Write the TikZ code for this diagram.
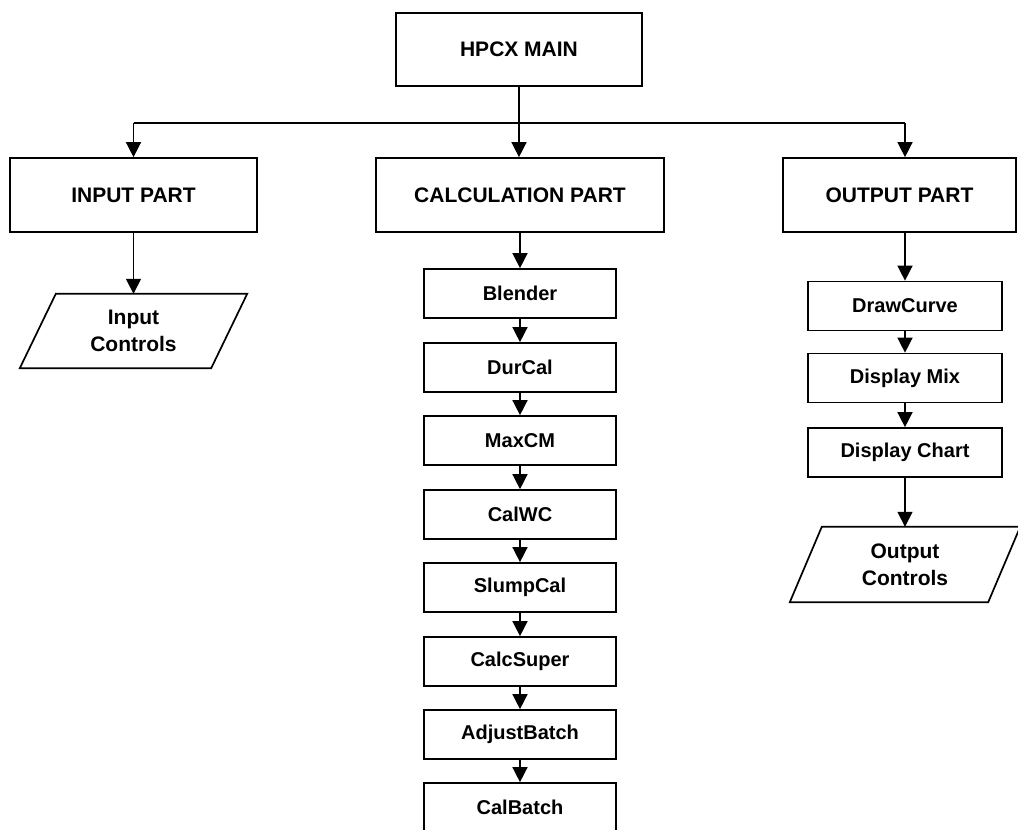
\documentclass[tikz,border=0pt]{standalone}
\usepackage{fontspec}
\setmainfont{Liberation Sans}
\usetikzlibrary{arrows.meta}
\begin{document}
\begin{tikzpicture}[x=1pt,y=-1pt,
  box/.style={draw, line width=1.7pt, rectangle, inner sep=0pt,
    font=\fontsize{21}{25}\selectfont\bfseries},
  bigbox/.style={box, minimum height=74pt},
  stepbox/.style={box, minimum height=49pt,
    font=\fontsize{20}{24}\selectfont\bfseries},
  iotext/.style={rectangle, inner sep=0pt, align=center, minimum height=74pt,
    font=\fontsize{21}{27}\selectfont\bfseries},
  arr/.style={line width=1.5pt, -{Triangle[length=15pt,width=15pt]}},
  line/.style={line width=1.5pt}]
\useasboundingbox (0,0) rectangle (1018,830);
\fill[white] (0,0) rectangle (1018,830);

% top level
\node[box, minimum width=246pt, minimum height=73pt] (main) at (519,49.5) {HPCX MAIN};

% three parts
\node[bigbox, minimum width=247pt] (inpart)   at (133.5,195) {INPUT PART};
\node[bigbox, minimum width=288pt] (calcpart) at (520,195)   {CALCULATION PART};
\node[bigbox, minimum width=233pt] (outpart)  at (899.5,195) {OUTPUT PART};

% branch from the main program
\coordinate (busL) at (133.5,123);
\coordinate (busR) at (905,123);
\draw[line] (busL) -- (busR);
\draw[arr] (busL) -- (inpart.north);
\draw[arr] (busR) -- (busR |- outpart.north);
\draw[arr] (main.south) -- (main.south |- calcpart.north);

% input side
\node[iotext, minimum width=191pt] (inctl) at (133.5,331) {Input\\Controls};
\draw[line width=1.7pt]
  ([xshift=18pt]inctl.north west) -- ([xshift=18pt]inctl.north east) --
  ([xshift=-18pt]inctl.south east) -- ([xshift=-18pt]inctl.south west) -- cycle;
\draw[arr] (inpart.south) -- (inctl.north);

% calculation chain
\node[stepbox, minimum width=192pt] (c1) at (520,293.5) {Blender};
\node[stepbox, minimum width=192pt] (c2) at (520,367.5) {DurCal};
\node[stepbox, minimum width=192pt] (c3) at (520,440.5) {MaxCM};
\node[stepbox, minimum width=192pt] (c4) at (520,514.5) {CalWC};
\node[stepbox, minimum width=192pt] (c5) at (520,587.5) {SlumpCal};
\node[stepbox, minimum width=192pt] (c6) at (520,661.5) {CalcSuper};
\node[stepbox, minimum width=192pt] (c7) at (520,734.5) {AdjustBatch};
\node[stepbox, minimum width=192pt] (c8) at (520,807.5) {CalBatch};
\draw[arr] (calcpart.south) -- (c1.north);
\foreach \a/\b in {c1/c2,c2/c3,c3/c4,c4/c5,c5/c6,c6/c7,c7/c8}
  \draw[arr] (\a.south) -- (\b.north);

% output chain
\node[stepbox, minimum width=194pt] (o1) at (905,306)   {DrawCurve};
\node[stepbox, minimum width=194pt] (o2) at (905,378)   {Display Mix};
\node[stepbox, minimum width=194pt] (o3) at (905,452.5) {Display Chart};
\draw[arr] (busR |- outpart.south) -- (o1.north);
\draw[arr] (o1.south) -- (o2.north);
\draw[arr] (o2.south) -- (o3.north);

\node[iotext, minimum width=198pt, minimum height=75pt] (outctl) at (905,564.5) {Output\\Controls};
\draw[line width=1.7pt]
  ([xshift=16pt]outctl.north west) -- ([xshift=16pt]outctl.north east) --
  ([xshift=-16pt]outctl.south east) -- ([xshift=-16pt]outctl.south west) -- cycle;
\draw[arr] (o3.south) -- (outctl.north);
\end{tikzpicture}
\end{document}
